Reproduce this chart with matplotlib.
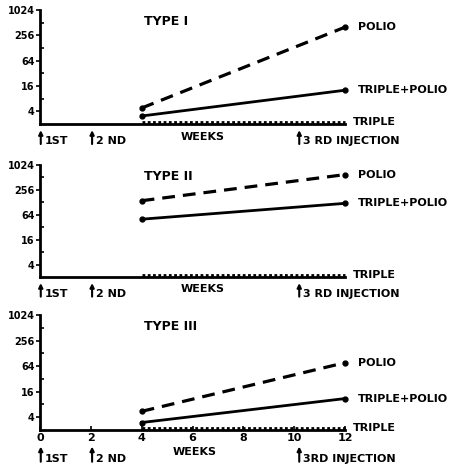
import matplotlib
matplotlib.use("Agg")
import matplotlib.pyplot as plt
from matplotlib.ticker import FixedLocator, NullFormatter

# antibody titre, weeks 4 -> 12
weeks = [4, 12]
types = ["TYPE I", "TYPE II", "TYPE III"]
polio = [[4.8, 400], [140, 600], [5.5, 77]]
triple_polio = [[3.1, 12.7], [50, 121], [3.0, 11]]
triple = [[2.2, 2.2], [2.25, 2.25], [2.2, 2.2]]

y_ticks = [4, 16, 64, 256, 1024]
y_minor = [8, 32, 128, 512]
x_ticks = [0, 2, 4, 6, 8, 10, 12]

W, H = 462, 472
# (top px, bottom px) of each panel
panel_px = [(10, 124), (165, 277), (315, 430)]
x0_px, x12_px = 40, 345

FONT = "DejaVu Sans"
FS = 8

fig = plt.figure(figsize=(W / 100, H / 100), dpi=100)


def draw_panel(ax, i, last):
	ax.set_yscale("log", base=2)
	ax.set_ylim(2, 1024)
	ax.set_xlim(0, 12)
	for s in ["top", "right"]:
		ax.spines[s].set_visible(False)
	for s in ["left", "bottom"]:
		ax.spines[s].set_linewidth(2)
	ax.yaxis.set_major_locator(FixedLocator(y_ticks))
	ax.yaxis.set_minor_locator(FixedLocator(y_minor))
	ax.yaxis.set_minor_formatter(NullFormatter())
	ax.set_yticklabels([str(v) for v in y_ticks], fontsize=7, fontweight="bold", fontname=FONT)
	ax.tick_params(axis="y", which="major", direction="out", length=3, width=1.2, pad=1)
	ax.tick_params(axis="y", which="minor", direction="in", length=3, width=1.2)
	ax.set_xticks(x_ticks)
	if last:
		ax.set_xticklabels([str(v) for v in x_ticks], fontsize=8, fontweight="bold", fontname=FONT)
		ax.tick_params(axis="x", direction="in", length=3, width=1.2, pad=2)
	else:
		ax.set_xticklabels([])
		ax.tick_params(axis="x", length=0)

	ax.plot(weeks, polio[i], color="k", lw=2.3, ls=(0, (4, 2.5)), marker="o", ms=3.5,
			clip_on=False)
	ax.plot(weeks, triple_polio[i], color="k", lw=2, marker="o", ms=3.5, clip_on=False)
	ax.plot(weeks, triple[i], color="k", lw=2, ls=(0, (1, 0.9)), clip_on=False)

	lab = dict(fontsize=FS, fontweight="bold", fontname=FONT, va="center", ha="left")
	ax.text(12.5, polio[i][1], "POLIO", **lab)
	ax.text(12.5, triple_polio[i][1], "TRIPLE+POLIO", **lab)
	ax.text(12.3, triple[i][1], "TRIPLE", **lab)
	ax.text(4.1, 2 ** 9.1, types[i], fontsize=9, fontweight="bold", fontname=FONT,
			va="center", ha="left")

	tr = ax.get_xaxis_transform()
	if last:
		tip, tail, ty, wy, wx = -0.12, -0.30, -0.25, -0.19, 6.1
	else:
		tip, tail, ty, wy, wx = -0.03, -0.20, -0.15, -0.11, 6.4
	arrow = dict(arrowstyle="-|>", lw=1.5, color="k", mutation_scale=6)
	for xw, txt in [(0.03, "1ST"), (2.05, "2 ND"), (10.2, "3 RD INJECTION" if not last else "3RD INJECTION")]:
		ax.annotate("", xy=(xw, tip), xytext=(xw, tail), xycoords=tr, textcoords=tr,
					arrowprops=arrow, annotation_clip=False)
		ax.text(xw + 0.15, ty, txt, transform=tr, fontsize=FS, fontweight="bold",
				fontname=FONT, va="center", ha="left")
	ax.text(wx, wy, "WEEKS", transform=tr, fontsize=FS, fontweight="bold",
			fontname=FONT, va="center", ha="center")


for i, (top, bot) in enumerate(panel_px):
	ax = fig.add_axes([x0_px / W, 1 - bot / H, (x12_px - x0_px) / W, (bot - top) / H])
	ax.patch.set_alpha(0)
	draw_panel(ax, i, i == 2)

fig.savefig("out.png", dpi=100)
